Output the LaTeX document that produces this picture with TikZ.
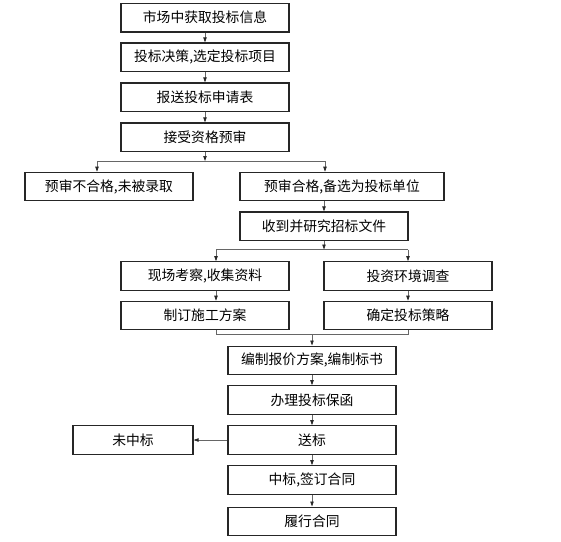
\documentclass[tikz,border=0pt]{standalone}
\usepackage{fontspec}
\setmainfont{Noto Sans CJK SC}
\usetikzlibrary{arrows.meta}
\tikzset{
  box/.style={draw=black!85, line width=1.1pt, minimum width=168pt, minimum height=28.5pt,
    inner sep=0pt, font=\fontsize{13.8}{16}\selectfont},
  conn/.style={draw=black!60, line width=0.7pt},
  arr/.style={conn, -{Triangle[length=5pt,width=3.4pt,fill=black!85,color=black!85]}}
}
\begin{document}
\begin{tikzpicture}[x=1pt,y=-1pt]
\useasboundingbox (0,0) rectangle (561,541);
\node[box] (b1) at (205,17.7) {市场中获取投标信息};
\node[box] (b2) at (205,57.2) {投标决策,选定投标项目};
\node[box] (b3) at (205,97.2) {报送投标申请表};
\node[box] (b4) at (205,137.2) {接受资格预审};
\node[box] (b5L) at (109,186.5) {预审不合格,未被录取};
\node[box, minimum width=204pt] (b5R) at (342,186.5) {预审合格,备选为投标单位};
\node[box] (b6) at (324,226.2) {收到并研究招标文件};
\node[box] (b7L) at (205,276) {现场考察,收集资料};
\node[box] (b7R) at (408,276) {投资环境调查};
\node[box] (b8L) at (205,315.5) {制订施工方案};
\node[box] (b8R) at (408,315.5) {确定投标策略};
\node[box] (b9) at (312,360.3) {编制报价方案,编制标书};
\node[box] (b10) at (312,400) {办理投标保函};
\node[box] (b11) at (312,440) {送标};
\node[box, minimum width=120pt] (nz) at (133,440) {未中标};
\node[box] (b12) at (312,480) {中标,签订合同};
\node[box] (b13) at (312,521.3) {履行合同};

\draw[arr] (b1) -- (b2);
\draw[arr] (b2) -- (b3);
\draw[arr] (b3) -- (b4);

\coordinate (s1) at (205,161);
\coordinate (s1L) at (97,161);
\coordinate (s1R) at (325,161);
\draw[arr] (b4.south) -- (s1);
\draw[conn] (s1L) -- (s1R);
\draw[arr] (s1L) -- (s1L |- b5L.north);
\draw[arr] (s1R) -- (s1R |- b5R.north);

\draw[arr] (b6.north |- b5R.south) -- (b6.north);

\coordinate (s2) at (324,249.5);
\coordinate (s2L) at (216,249.5);
\coordinate (s2R) at (408,249.5);
\draw[arr] (b6.south) -- (s2);
\draw[conn] (s2L) -- (s2R);
\draw[arr] (s2L) -- (s2L |- b7L.north);
\draw[arr] (s2R) -- (b7R.north);

\draw[arr] (s2L |- b7L.south) -- (s2L |- b8L.north);
\draw[arr] (b7R.south) -- (b8R.north);

\coordinate (m) at (312,334);
\coordinate (mL) at (216,334);
\coordinate (mR) at (408,334);
\draw[conn] (mL |- b8L.south) -- (mL) -- (mR) -- (b8R.south);
\draw[arr] (m) -- (b9.north);

\draw[arr] (b9) -- (b10);
\draw[arr] (b10) -- (b11);
\draw[arr] (b11) -- (nz);
\draw[arr] (b11) -- (b12);
\draw[arr] (b12) -- (b13);
\end{tikzpicture}
\end{document}
